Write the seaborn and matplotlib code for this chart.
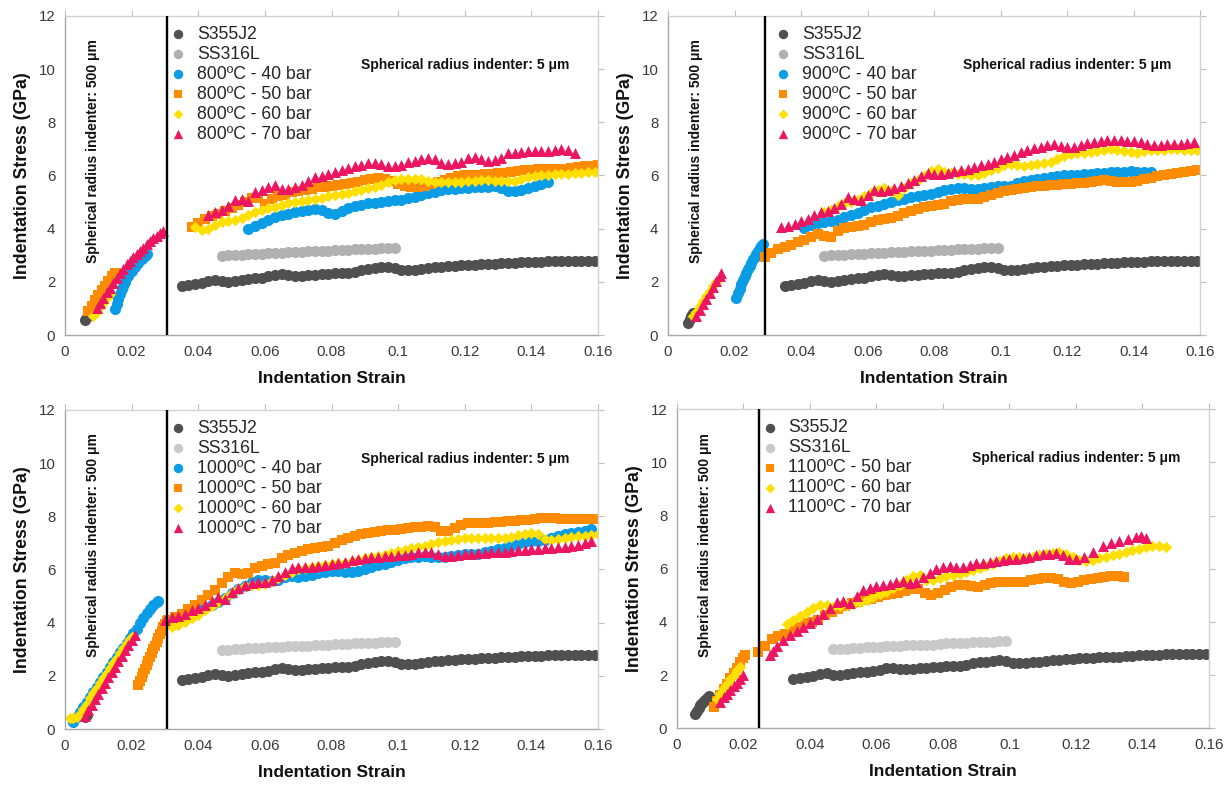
import matplotlib
matplotlib.use("Agg")
import matplotlib.pyplot as plt
import pandas as pd
import seaborn as sns

# ---------------------------------------------------------------- data ----
x_ticks = [0, 0.02, 0.04, 0.06, 0.08, 0.10, 0.12, 0.14, 0.16]
x_tick_labels = ["0", "0.02", "0.04", "0.06", "0.08", "0.1", "0.12", "0.14", "0.16"]
y_ticks = [0, 2, 4, 6, 8, 10, 12]

# Reference steels (same curves in every panel)
s355_strain = [0.035, 0.037, 0.039, 0.041, 0.043, 0.045, 0.047, 0.049, 0.051, 0.053,
               0.055, 0.057, 0.059, 0.061, 0.063, 0.065, 0.067, 0.069, 0.071, 0.073,
               0.075, 0.077, 0.079, 0.081, 0.083, 0.085, 0.087, 0.089, 0.091, 0.093,
               0.095, 0.097, 0.099, 0.101, 0.103, 0.105, 0.107, 0.109, 0.111, 0.113,
               0.115, 0.117, 0.119, 0.121, 0.123, 0.125, 0.127, 0.129, 0.131, 0.133,
               0.135, 0.137, 0.139, 0.141, 0.143, 0.145, 0.147, 0.149, 0.151, 0.153,
               0.155, 0.157, 0.159]
s355_stress = [1.84, 1.88, 1.92, 1.97, 2.03, 2.08, 2.02, 1.99, 2.03, 2.07,
               2.10, 2.13, 2.16, 2.20, 2.26, 2.28, 2.24, 2.22, 2.23, 2.25,
               2.27, 2.29, 2.31, 2.33, 2.34, 2.35, 2.37, 2.44, 2.48, 2.51,
               2.55, 2.56, 2.53, 2.46, 2.44, 2.46, 2.48, 2.51, 2.54, 2.56,
               2.58, 2.61, 2.62, 2.63, 2.65, 2.66, 2.67, 2.68, 2.69, 2.70,
               2.71, 2.73, 2.74, 2.75, 2.76, 2.77, 2.78, 2.79, 2.79, 2.80,
               2.80, 2.80, 2.79]

ss316_strain = [0.047, 0.049, 0.051, 0.053, 0.055, 0.057, 0.059, 0.061, 0.063, 0.065,
                0.067, 0.069, 0.071, 0.073, 0.075, 0.077, 0.079, 0.081, 0.083, 0.085,
                0.087, 0.089, 0.091, 0.093, 0.095, 0.097, 0.099]
ss316_stress = [2.97, 2.99, 3.00, 3.02, 3.03, 3.05, 3.06, 3.07, 3.09, 3.10,
                3.11, 3.12, 3.13, 3.14, 3.15, 3.15, 3.16, 3.19, 3.20, 3.21,
                3.22, 3.23, 3.24, 3.25, 3.26, 3.27, 3.28]

# S355J2 readings with the 500 um indenter, per panel
s355_low_800_strain = [0.006, 0.0065, 0.007, 0.0075]
s355_low_800_stress = [0.55, 0.68, 0.82, 0.95]
s355_low_900_strain = [0.006, 0.0065, 0.007, 0.0075]
s355_low_900_stress = [0.46, 0.60, 0.72, 0.84]
s355_low_1000_strain = [0.006, 0.0065]
s355_low_1000_stress = [0.45, 0.52]
s355_low_1100_strain = [0.0055, 0.006, 0.0065, 0.007, 0.0075, 0.008, 0.0085, 0.009, 0.0095]
s355_low_1100_stress = [0.55, 0.65, 0.78, 0.88, 0.96, 1.02, 1.08, 1.15, 1.20]

# ---- 800 ºC
t800_b40_strain = [0.0150, 0.0155, 0.0160, 0.0165, 0.0170, 0.0175, 0.0180, 0.0190, 0.0200, 0.0210,
                   0.0220, 0.0230, 0.0240, 0.0245,
                   0.055, 0.057, 0.059, 0.061, 0.063, 0.065, 0.067, 0.069, 0.071, 0.073,
                   0.075, 0.077, 0.079, 0.081, 0.083, 0.085, 0.087, 0.089, 0.091, 0.093,
                   0.095, 0.097, 0.099, 0.101, 0.103, 0.105, 0.107, 0.109, 0.111, 0.113,
                   0.115, 0.117, 0.119, 0.121, 0.123, 0.125, 0.127, 0.129, 0.131, 0.133,
                   0.135, 0.137, 0.139, 0.141, 0.143, 0.145]
t800_b40_stress = [0.97, 1.15, 1.35, 1.55, 1.72, 1.86, 1.98, 2.20, 2.40, 2.56,
                   2.70, 2.84, 2.96, 3.04,
                   4.00, 4.10, 4.20, 4.32, 4.42, 4.50, 4.56, 4.62, 4.66, 4.70,
                   4.73, 4.70, 4.58, 4.56, 4.66, 4.76, 4.84, 4.90, 4.95, 4.98,
                   5.01, 5.04, 5.06, 5.08, 5.14, 5.20, 5.26, 5.33, 5.39, 5.44,
                   5.48, 5.50, 5.52, 5.53, 5.55, 5.56, 5.58, 5.60, 5.52, 5.41,
                   5.42, 5.45, 5.52, 5.62, 5.68, 5.75]

t800_b50_strain = [0.007, 0.008, 0.009, 0.010, 0.011, 0.012, 0.013, 0.014, 0.015,
                   0.038, 0.040, 0.042, 0.044, 0.046, 0.048, 0.050, 0.052, 0.054, 0.056,
                   0.058, 0.060, 0.062, 0.064, 0.066, 0.068, 0.070, 0.072, 0.074, 0.076,
                   0.078, 0.080, 0.082, 0.084, 0.086, 0.088, 0.090, 0.092, 0.094, 0.096,
                   0.098, 0.100, 0.102, 0.104, 0.106, 0.108, 0.110, 0.112, 0.114, 0.116,
                   0.118, 0.120, 0.122, 0.124, 0.126, 0.128, 0.130, 0.132, 0.134, 0.136,
                   0.138, 0.140, 0.142, 0.144, 0.146, 0.148, 0.150, 0.152, 0.154, 0.156,
                   0.158, 0.160]
t800_b50_stress = [0.90, 1.10, 1.30, 1.50, 1.68, 1.86, 2.03, 2.20, 2.35,
                   4.06, 4.22, 4.38, 4.46, 4.56, 4.66, 4.77, 4.88, 5.00, 5.14,
                   5.16, 4.94, 5.10, 5.22, 5.28, 5.36, 5.40, 5.45, 5.50, 5.55,
                   5.58, 5.61, 5.64, 5.68, 5.72, 5.77, 5.82, 5.87, 5.89, 5.86,
                   5.80, 5.68, 5.60, 5.57, 5.58, 5.62, 5.68, 5.76, 5.84, 5.92,
                   5.98, 6.01, 6.02, 6.03, 6.04, 6.06, 6.08, 6.10, 6.14, 6.18,
                   6.21, 6.22, 6.23, 6.24, 6.25, 6.25, 6.26, 6.28, 6.31, 6.34,
                   6.37, 6.38]

t800_b60_strain = [0.0085, 0.0095, 0.0105, 0.0115, 0.0125, 0.0135,
                   0.039, 0.041, 0.043, 0.045, 0.047, 0.049, 0.051, 0.053, 0.055, 0.057,
                   0.059, 0.061, 0.063, 0.065, 0.067, 0.069, 0.071, 0.073, 0.075, 0.077,
                   0.079, 0.081, 0.083, 0.085, 0.087, 0.089, 0.091, 0.093, 0.095, 0.097,
                   0.099, 0.101, 0.103, 0.105, 0.107, 0.109, 0.111, 0.113, 0.115, 0.117,
                   0.119, 0.121, 0.123, 0.125, 0.127, 0.129, 0.131, 0.133, 0.135, 0.137,
                   0.139, 0.141, 0.143, 0.145, 0.147, 0.149, 0.151, 0.153, 0.155, 0.157,
                   0.159]
t800_b60_stress = [0.72, 0.88, 1.05, 1.22, 1.38, 1.54,
                   4.06, 3.96, 3.98, 4.12, 4.24, 4.28, 4.33, 4.40, 4.50, 4.63,
                   4.70, 4.76, 4.82, 4.88, 4.95, 5.00, 5.04, 5.09, 5.13, 5.17,
                   5.22, 5.26, 5.30, 5.35, 5.40, 5.46, 5.52, 5.58, 5.64, 5.74,
                   5.82, 5.85, 5.87, 5.88, 5.85, 5.80, 5.77, 5.75, 5.75, 5.76,
                   5.77, 5.78, 5.80, 5.81, 5.81, 5.80, 5.79, 5.78, 5.80, 5.88,
                   5.95, 5.98, 6.01, 6.03, 6.05, 6.06, 6.07, 6.08, 6.10, 6.12,
                   6.13]

t800_b70_strain = [0.0095, 0.0105, 0.0115, 0.0125, 0.0135, 0.0145, 0.0155, 0.0165, 0.0175, 0.0185,
                   0.0195, 0.0205, 0.0215, 0.0225, 0.0235, 0.0245, 0.0255, 0.0265, 0.0275, 0.0285,
                   0.0295,
                   0.043, 0.045, 0.047, 0.049, 0.051, 0.053, 0.055, 0.057, 0.059, 0.061,
                   0.063, 0.065, 0.067, 0.069, 0.071, 0.073, 0.075, 0.077, 0.079, 0.081,
                   0.083, 0.085, 0.087, 0.089, 0.091, 0.093, 0.095, 0.097, 0.099, 0.101,
                   0.103, 0.105, 0.107, 0.109, 0.111, 0.113, 0.115, 0.117, 0.119, 0.121,
                   0.123, 0.125, 0.127, 0.129, 0.131, 0.133, 0.135, 0.137, 0.139, 0.141,
                   0.143, 0.145, 0.147, 0.149, 0.151, 0.153]
t800_b70_stress = [1.03, 1.22, 1.41, 1.60, 1.78, 1.97, 2.15, 2.33, 2.50, 2.67,
                   2.80, 2.93, 3.05, 3.17, 3.29, 3.42, 3.53, 3.64, 3.72, 3.82,
                   3.92,
                   4.52, 4.62, 4.70, 4.85, 5.08, 5.10, 5.02, 5.38, 5.46, 5.55,
                   5.64, 5.50, 5.48, 5.58, 5.65, 5.80, 5.94, 5.98, 6.06, 6.13,
                   6.20, 6.27, 6.34, 6.39, 6.45, 6.48, 6.42, 6.36, 6.34, 6.38,
                   6.50, 6.56, 6.63, 6.66, 6.60, 6.48, 6.44, 6.47, 6.52, 6.64,
                   6.71, 6.62, 6.56, 6.58, 6.64, 6.84, 6.86, 6.88, 6.90, 6.90,
                   6.91, 6.93, 6.95, 7.00, 6.96, 6.85]

# ---- 900 ºC
t900_b40_strain = [0.0205, 0.0210, 0.0215, 0.0220, 0.0225, 0.0230, 0.0235, 0.0240, 0.0245, 0.0250,
                   0.0255, 0.0260, 0.0265, 0.0270, 0.0275, 0.0280, 0.0285,
                   0.041, 0.043, 0.045, 0.047, 0.049, 0.051, 0.053, 0.055, 0.057, 0.059,
                   0.061, 0.063, 0.065, 0.067, 0.069, 0.071, 0.073, 0.075, 0.077, 0.079,
                   0.081, 0.083, 0.085, 0.087, 0.089, 0.091, 0.093, 0.095, 0.097, 0.099,
                   0.101, 0.103, 0.105, 0.107, 0.109, 0.111, 0.113, 0.115, 0.117, 0.119,
                   0.121, 0.123, 0.125, 0.127, 0.129, 0.131, 0.133, 0.135, 0.137, 0.139,
                   0.141, 0.143, 0.145]
t900_b40_stress = [1.41, 1.58, 1.74, 1.90, 2.05, 2.20, 2.34, 2.47, 2.60, 2.72,
                   2.84, 2.95, 3.06, 3.16, 3.26, 3.35, 3.44,
                   4.04, 4.14, 4.20, 4.26, 4.30, 4.34, 4.44, 4.52, 4.60, 4.70,
                   4.80, 4.86, 4.92, 5.00, 5.06, 5.10, 5.18, 5.24, 5.28, 5.32,
                   5.38, 5.44, 5.50, 5.53, 5.52, 5.50, 5.50, 5.54, 5.58, 5.61,
                   5.60, 5.62, 5.70, 5.78, 5.84, 5.88, 5.92, 5.95, 5.97, 6.00,
                   6.02, 6.03, 6.05, 6.06, 6.08, 6.10, 6.12, 6.13, 6.14, 6.15,
                   6.14, 6.14, 6.14]

t900_b50_strain = [0.029, 0.031, 0.033, 0.035, 0.037, 0.039, 0.041, 0.043, 0.045, 0.047,
                   0.049, 0.051, 0.053, 0.055, 0.057, 0.059, 0.061, 0.063, 0.065, 0.067,
                   0.069, 0.071, 0.073, 0.075, 0.077, 0.079, 0.081, 0.083, 0.085, 0.087,
                   0.089, 0.091, 0.093, 0.095, 0.097, 0.099, 0.101, 0.103, 0.105, 0.107,
                   0.109, 0.111, 0.113, 0.115, 0.117, 0.119, 0.121, 0.123, 0.125, 0.127,
                   0.129, 0.131, 0.133, 0.135, 0.137, 0.139, 0.141, 0.143, 0.145, 0.147,
                   0.149, 0.151, 0.153, 0.155, 0.157, 0.159]
t900_b50_stress = [2.95, 3.10, 3.24, 3.32, 3.40, 3.50, 3.58, 3.68, 3.80, 3.74,
                   3.70, 3.90, 4.02, 4.06, 4.10, 4.14, 4.24, 4.34, 4.38, 4.40,
                   4.48, 4.58, 4.66, 4.74, 4.80, 4.84, 4.88, 4.94, 5.02, 5.08,
                   5.10, 5.10, 5.12, 5.18, 5.26, 5.34, 5.40, 5.44, 5.48, 5.52,
                   5.56, 5.60, 5.62, 5.63, 5.64, 5.66, 5.68, 5.70, 5.73, 5.76,
                   5.79, 5.81, 5.80, 5.77, 5.75, 5.76, 5.80, 5.86, 5.92, 5.98,
                   6.02, 6.06, 6.10, 6.14, 6.17, 6.19]

t900_b60_strain = [0.0075, 0.0085, 0.0095, 0.0105, 0.0115, 0.0125, 0.0135, 0.0145,
                   0.047, 0.049, 0.051, 0.053, 0.055, 0.057, 0.059, 0.061, 0.063, 0.065,
                   0.067, 0.069, 0.071, 0.073, 0.075, 0.077, 0.079, 0.081, 0.083, 0.085,
                   0.087, 0.089, 0.091, 0.093, 0.095, 0.097, 0.099, 0.101, 0.103, 0.105,
                   0.107, 0.109, 0.111, 0.113, 0.115, 0.117, 0.119, 0.121, 0.123, 0.125,
                   0.127, 0.129, 0.131, 0.133, 0.135, 0.137, 0.139, 0.141, 0.143, 0.145,
                   0.147, 0.149, 0.151, 0.153, 0.155, 0.157, 0.159]
t900_b60_stress = [0.70, 0.88, 1.08, 1.27, 1.46, 1.65, 1.84, 2.00,
                   4.62, 4.70, 4.84, 4.96, 5.00, 5.08, 5.22, 5.34, 5.46, 5.54,
                   5.40, 5.26, 5.52, 5.70, 5.82, 5.98, 6.18, 6.24, 6.14, 6.10,
                   6.06, 6.04, 6.00, 6.00, 6.10, 6.22, 6.28, 6.38, 6.44, 6.40,
                   6.36, 6.38, 6.42, 6.46, 6.50, 6.60, 6.72, 6.80, 6.84, 6.86,
                   6.88, 6.92, 6.95, 6.98, 6.96, 6.92, 6.88, 6.86, 6.90, 6.94,
                   6.96, 6.97, 6.98, 6.98, 6.97, 6.96, 6.95]

t900_b70_strain = [0.0085, 0.0095, 0.0105, 0.0115, 0.0125, 0.0135, 0.0145, 0.0155, 0.0160,
                   0.034, 0.036, 0.038, 0.040, 0.042, 0.044, 0.046, 0.048, 0.050, 0.052,
                   0.054, 0.056, 0.058, 0.060, 0.062, 0.064, 0.066, 0.068, 0.070, 0.072,
                   0.074, 0.076, 0.078, 0.080, 0.082, 0.084, 0.086, 0.088, 0.090, 0.092,
                   0.094, 0.096, 0.098, 0.100, 0.102, 0.104, 0.106, 0.108, 0.110, 0.112,
                   0.114, 0.116, 0.118, 0.120, 0.122, 0.124, 0.126, 0.128, 0.130, 0.132,
                   0.134, 0.136, 0.138, 0.140, 0.142, 0.144, 0.146, 0.148, 0.150, 0.152,
                   0.154, 0.156, 0.158]
t900_b70_stress = [0.72, 0.93, 1.15, 1.37, 1.59, 1.80, 2.02, 2.23, 2.35,
                   4.06, 4.10, 4.16, 4.28, 4.36, 4.52, 4.62, 4.66, 4.78, 4.92,
                   5.20, 5.10, 5.06, 5.28, 5.44, 5.40, 5.46, 5.54, 5.62, 5.72,
                   5.84, 5.96, 6.08, 6.06, 6.04, 6.08, 6.16, 6.22, 6.26, 6.32,
                   6.38, 6.44, 6.52, 6.62, 6.70, 6.78, 6.88, 6.96, 7.02, 7.08,
                   7.14, 7.18, 7.12, 7.06, 7.08, 7.16, 7.22, 7.26, 7.30, 7.32,
                   7.33, 7.32, 7.31, 7.30, 7.25, 7.18, 7.15, 7.16, 7.18, 7.19,
                   7.20, 7.22, 7.24]

# ---- 1000 ºC
t1000_b40_strain = [0.0025, 0.0035, 0.0045, 0.0055, 0.0065, 0.0075, 0.0085, 0.0095, 0.0105, 0.0115,
                    0.0125, 0.0135, 0.0145, 0.0155, 0.0165, 0.0175, 0.0185, 0.0195, 0.0205, 0.0215,
                    0.0225, 0.0235, 0.0245, 0.0255, 0.0265, 0.0275, 0.0280,
                    0.038, 0.040, 0.042, 0.044, 0.046, 0.048, 0.050, 0.052, 0.054, 0.056,
                    0.058, 0.060, 0.062, 0.064, 0.066, 0.068, 0.070, 0.072, 0.074, 0.076,
                    0.078, 0.080, 0.082, 0.084, 0.086, 0.088, 0.090, 0.092, 0.094, 0.096,
                    0.098, 0.100, 0.102, 0.104, 0.106, 0.108, 0.110, 0.112, 0.114, 0.116,
                    0.118, 0.120, 0.122, 0.124, 0.126, 0.128, 0.130, 0.132, 0.134, 0.136,
                    0.138, 0.140, 0.142, 0.144, 0.146, 0.148, 0.150, 0.152, 0.154, 0.156,
                    0.158]
t1000_b40_stress = [0.28, 0.45, 0.64, 0.83, 1.02, 1.21, 1.40, 1.59, 1.78, 1.97,
                    2.15, 2.34, 2.52, 2.70, 2.88, 3.06, 3.24, 3.42, 3.60, 3.78,
                    3.98, 4.18, 4.36, 4.52, 4.65, 4.76, 4.80,
                    4.50, 4.56, 4.60, 4.66, 4.76, 4.92, 5.10, 5.26, 5.38, 5.52,
                    5.62, 5.62, 5.58, 5.62, 5.70, 5.76, 5.72, 5.74, 5.80, 5.86,
                    5.92, 5.96, 5.94, 5.90, 5.90, 5.94, 6.00, 6.08, 6.16, 6.22,
                    6.28, 6.36, 6.42, 6.46, 6.48, 6.50, 6.48, 6.46, 6.48, 6.52,
                    6.56, 6.58, 6.58, 6.60, 6.64, 6.70, 6.76, 6.82, 6.90, 6.96,
                    7.04, 7.08, 7.06, 7.10, 7.18, 7.26, 7.32, 7.36, 7.40, 7.46,
                    7.52]

t1000_b50_strain = [0.0220, 0.0225, 0.0230, 0.0235, 0.0240, 0.0245, 0.0250, 0.0255, 0.0260, 0.0265,
                    0.0270, 0.0275, 0.0280, 0.0285, 0.0290, 0.0295, 0.0300, 0.0305,
                    0.031, 0.033, 0.035, 0.037, 0.039, 0.041, 0.043, 0.045, 0.047, 0.049,
                    0.051, 0.053, 0.055, 0.057, 0.059, 0.061, 0.063, 0.065, 0.067, 0.069,
                    0.071, 0.073, 0.075, 0.077, 0.079, 0.081, 0.083, 0.085, 0.087, 0.089,
                    0.091, 0.093, 0.095, 0.097, 0.099, 0.101, 0.103, 0.105, 0.107, 0.109,
                    0.111, 0.113, 0.115, 0.117, 0.119, 0.121, 0.123, 0.125, 0.127, 0.129,
                    0.131, 0.133, 0.135, 0.137, 0.139, 0.141, 0.143, 0.145, 0.147, 0.149,
                    0.151, 0.153, 0.155, 0.157, 0.159]
t1000_b50_stress = [1.66, 1.80, 1.95, 2.10, 2.25, 2.40, 2.55, 2.70, 2.85, 3.00,
                    3.14, 3.28, 3.42, 3.56, 3.70, 3.83, 3.95, 4.05,
                    4.10, 4.22, 4.34, 4.50, 4.68, 4.84, 5.04, 5.22, 5.48, 5.70,
                    5.86, 5.82, 5.86, 6.04, 6.14, 6.20, 6.26, 6.42, 6.54, 6.62,
                    6.70, 6.78, 6.82, 6.85, 6.90, 7.00, 7.10, 7.18, 7.26, 7.32,
                    7.36, 7.40, 7.44, 7.47, 7.49, 7.52, 7.55, 7.58, 7.61, 7.62,
                    7.60, 7.46, 7.44, 7.56, 7.68, 7.74, 7.75, 7.76, 7.76, 7.78,
                    7.80, 7.82, 7.84, 7.85, 7.86, 7.90, 7.94, 7.94, 7.92, 7.90,
                    7.89, 7.88, 7.88, 7.89, 7.89]

t1000_b60_strain = [0.0015, 0.0025, 0.0035, 0.0045, 0.0055, 0.0065, 0.0075, 0.0085, 0.0095, 0.0105,
                    0.0115, 0.0125, 0.0135, 0.0145, 0.0155, 0.0165, 0.0175, 0.0185, 0.0195, 0.0200,
                    0.032, 0.034, 0.036, 0.038, 0.040, 0.042, 0.044, 0.046, 0.048, 0.050,
                    0.052, 0.054, 0.056, 0.058, 0.060, 0.062, 0.064, 0.066, 0.068, 0.070,
                    0.072, 0.074, 0.076, 0.078, 0.080, 0.082, 0.084, 0.086, 0.088, 0.090,
                    0.092, 0.094, 0.096, 0.098, 0.100, 0.102, 0.104, 0.106, 0.108, 0.110,
                    0.112, 0.114, 0.116, 0.118, 0.120, 0.122, 0.124, 0.126, 0.128, 0.130,
                    0.132, 0.134, 0.136, 0.138, 0.140, 0.142, 0.144, 0.146, 0.148, 0.150,
                    0.152, 0.154, 0.156, 0.158, 0.160]
t1000_b60_stress = [0.42, 0.42, 0.44, 0.58, 0.77, 0.96, 1.15, 1.34, 1.53, 1.72,
                    1.91, 2.10, 2.29, 2.48, 2.67, 2.86, 3.05, 3.24, 3.40, 3.47,
                    3.84, 3.90, 4.04, 4.18, 4.30, 4.46, 4.62, 4.78, 4.94, 5.10,
                    5.26, 5.36, 5.40, 5.42, 5.46, 5.56, 5.68, 5.80, 5.92, 6.00,
                    6.06, 6.10, 6.14, 6.18, 6.22, 6.24, 6.26, 6.30, 6.36, 6.42,
                    6.46, 6.50, 6.56, 6.62, 6.68, 6.74, 6.80, 6.85, 6.90, 6.96,
                    7.02, 7.06, 7.10, 7.14, 7.17, 7.18, 7.18, 7.17, 7.17, 7.18,
                    7.20, 7.23, 7.28, 7.34, 7.38, 7.34, 7.16, 7.12, 7.15, 7.18,
                    7.21, 7.24, 7.27, 7.30, 7.33]

t1000_b70_strain = [0.006, 0.007, 0.008, 0.009, 0.010, 0.011, 0.012, 0.013, 0.014, 0.015,
                    0.016, 0.017, 0.018, 0.019, 0.020, 0.021,
                    0.030, 0.032, 0.034, 0.036, 0.038, 0.040, 0.042, 0.044, 0.046, 0.048,
                    0.050, 0.052, 0.054, 0.056, 0.058, 0.060, 0.062, 0.064, 0.066, 0.068,
                    0.070, 0.072, 0.074, 0.076, 0.078, 0.080, 0.082, 0.084, 0.086, 0.088,
                    0.090, 0.092, 0.094, 0.096, 0.098, 0.100, 0.102, 0.104, 0.106, 0.108,
                    0.110, 0.112, 0.114, 0.116, 0.118, 0.120, 0.122, 0.124, 0.126, 0.128,
                    0.130, 0.132, 0.134, 0.136, 0.138, 0.140, 0.142, 0.144, 0.146, 0.148,
                    0.150, 0.152, 0.154, 0.156, 0.158]
t1000_b70_stress = [0.50, 0.70, 0.91, 1.12, 1.32, 1.53, 1.73, 1.94, 2.14, 2.35,
                    2.55, 2.76, 2.96, 3.16, 3.36, 3.54,
                    4.10, 4.20, 4.26, 4.34, 4.46, 4.56, 4.66, 4.80, 4.96, 4.90,
                    5.14, 5.30, 5.40, 5.48, 5.52, 5.54, 5.62, 5.74, 5.90, 6.04,
                    6.10, 6.08, 6.08, 6.12, 6.18, 6.20, 6.24, 6.28, 6.34, 6.40,
                    6.44, 6.46, 6.48, 6.50, 6.52, 6.54, 6.56, 6.60, 6.64, 6.66,
                    6.66, 6.60, 6.52, 6.52, 6.56, 6.58, 6.60, 6.62, 6.62, 6.64,
                    6.65, 6.66, 6.68, 6.72, 6.74, 6.76, 6.78, 6.80, 6.82, 6.84,
                    6.86, 6.88, 6.92, 6.98, 7.06]

# ---- 1100 ºC
t1100_b50_strain = [0.011, 0.012, 0.013, 0.014, 0.015, 0.016, 0.017, 0.018, 0.019, 0.020,
                    0.0205,
                    0.0245, 0.0265, 0.0285, 0.0305, 0.0325, 0.0345, 0.0365, 0.0385, 0.0405, 0.0425,
                    0.0445, 0.0465, 0.0485, 0.0505, 0.0525, 0.0545, 0.0565, 0.0585, 0.0605, 0.0625,
                    0.0645, 0.0665, 0.0685, 0.0705, 0.0725, 0.0745, 0.0765, 0.0785, 0.0805, 0.0825,
                    0.0845, 0.0865, 0.0885, 0.0905, 0.0925, 0.0945, 0.0965, 0.0985, 0.1005, 0.1025,
                    0.1045, 0.1065, 0.1085, 0.1105, 0.1125, 0.1145, 0.1165, 0.1185, 0.1205, 0.1225,
                    0.1245, 0.1265, 0.1285, 0.1305, 0.1325, 0.1345]
t1100_b50_stress = [0.80, 1.02, 1.24, 1.46, 1.68, 1.88, 2.08, 2.28, 2.48, 2.66,
                    2.75,
                    2.86, 3.10, 3.34, 3.46, 3.56, 3.66, 3.80, 3.96, 4.00, 4.06,
                    4.26, 4.38, 4.48, 4.60, 4.70, 4.76, 4.82, 4.88, 4.94, 5.00,
                    5.06, 5.10, 5.18, 5.24, 5.22, 5.08, 5.03, 5.10, 5.20, 5.30,
                    5.38, 5.40, 5.34, 5.32, 5.40, 5.48, 5.52, 5.52, 5.50, 5.50,
                    5.52, 5.56, 5.60, 5.64, 5.65, 5.62, 5.52, 5.48, 5.52, 5.58,
                    5.62, 5.66, 5.70, 5.72, 5.72, 5.70]

t1100_b60_strain = [0.012, 0.013, 0.014, 0.015, 0.016, 0.017, 0.018, 0.019,
                    0.033, 0.035, 0.037, 0.039, 0.041, 0.043, 0.045, 0.047, 0.049, 0.051,
                    0.053, 0.055, 0.057, 0.059, 0.061, 0.063, 0.065, 0.067, 0.069, 0.071,
                    0.073, 0.075, 0.077, 0.079, 0.081, 0.083, 0.085, 0.087, 0.089, 0.091,
                    0.093, 0.095, 0.097, 0.099, 0.101, 0.103, 0.105, 0.107, 0.109, 0.111,
                    0.113, 0.115, 0.117, 0.119, 0.121, 0.123, 0.125, 0.127, 0.129, 0.131,
                    0.133, 0.135, 0.137, 0.139, 0.141, 0.143, 0.145, 0.147]
t1100_b60_stress = [1.10, 1.30, 1.50, 1.68, 1.86, 2.02, 2.18, 2.32,
                    3.91, 4.06, 4.22, 4.36, 4.52, 4.64, 4.62, 4.58, 4.60, 4.64,
                    4.68, 4.74, 4.84, 4.94, 5.04, 5.14, 5.26, 5.40, 5.56, 5.72,
                    5.76, 5.58, 5.56, 5.66, 5.72, 5.76, 5.82, 5.88, 5.94, 6.02,
                    6.10, 6.18, 6.28, 6.40, 6.45, 6.43, 6.41, 6.44, 6.50, 6.56,
                    6.60, 6.62, 6.56, 6.44, 6.34, 6.30, 6.34, 6.40, 6.44, 6.50,
                    6.56, 6.62, 6.70, 6.76, 6.82, 6.86, 6.86, 6.83]

t1100_b70_strain = [0.013, 0.014, 0.015, 0.016, 0.017, 0.018, 0.019, 0.020,
                    0.028, 0.029, 0.030, 0.032, 0.034, 0.036, 0.038, 0.040, 0.042, 0.044,
                    0.046, 0.048, 0.050, 0.052, 0.054, 0.056, 0.058, 0.060, 0.062, 0.064,
                    0.066, 0.068, 0.070, 0.072, 0.074, 0.076, 0.078, 0.080, 0.082, 0.084,
                    0.086, 0.088, 0.090, 0.092, 0.094, 0.096, 0.098, 0.100, 0.102, 0.104,
                    0.106, 0.108, 0.110, 0.112, 0.114, 0.116, 0.118, 0.120, 0.1225, 0.125,
                    0.128, 0.1305, 0.133, 0.1355, 0.138, 0.1395, 0.141]
t1100_b70_stress = [1.00, 1.16, 1.30, 1.44, 1.58, 1.72, 1.86, 2.00,
                    2.74, 2.92, 3.08, 3.32, 3.50, 3.66, 3.80, 3.96, 4.10, 4.30,
                    4.52, 4.76, 4.80, 4.72, 4.96, 5.20, 5.28, 5.34, 5.40, 5.44,
                    5.50, 5.54, 5.48, 5.50, 5.70, 5.84, 5.98, 6.08, 6.10, 6.08,
                    6.08, 6.14, 6.22, 6.20, 6.24, 6.30, 6.34, 6.36, 6.38, 6.42,
                    6.46, 6.50, 6.54, 6.56, 6.58, 6.52, 6.36, 6.38, 6.44, 6.62,
                    6.84, 6.98, 7.06, 7.10, 7.20, 7.22, 7.16]

# Strain where the 500 um indenter data hands over to the 5 um indenter
indenter_switch = [0.0305, 0.0291, 0.0305, 0.0246]
ss316_colors = ["#b1b1b1", "#b1b1b1", "#c9c9c9", "#c9c9c9"]

panels = [
    [("S355J2", s355_low_800_strain + s355_strain, s355_low_800_stress + s355_stress),
     ("SS316L", ss316_strain, ss316_stress),
     ("800ºC - 40 bar", t800_b40_strain, t800_b40_stress),
     ("800ºC - 50 bar", t800_b50_strain, t800_b50_stress),
     ("800ºC - 60 bar", t800_b60_strain, t800_b60_stress),
     ("800ºC - 70 bar", t800_b70_strain, t800_b70_stress)],
    [("S355J2", s355_low_900_strain + s355_strain, s355_low_900_stress + s355_stress),
     ("SS316L", ss316_strain, ss316_stress),
     ("900ºC - 40 bar", t900_b40_strain, t900_b40_stress),
     ("900ºC - 50 bar", t900_b50_strain, t900_b50_stress),
     ("900ºC - 60 bar", t900_b60_strain, t900_b60_stress),
     ("900ºC - 70 bar", t900_b70_strain, t900_b70_stress)],
    [("S355J2", s355_low_1000_strain + s355_strain, s355_low_1000_stress + s355_stress),
     ("SS316L", ss316_strain, ss316_stress),
     ("1000ºC - 40 bar", t1000_b40_strain, t1000_b40_stress),
     ("1000ºC - 50 bar", t1000_b50_strain, t1000_b50_stress),
     ("1000ºC - 60 bar", t1000_b60_strain, t1000_b60_stress),
     ("1000ºC - 70 bar", t1000_b70_strain, t1000_b70_stress)],
    [("S355J2", s355_low_1100_strain + s355_strain, s355_low_1100_stress + s355_stress),
     ("SS316L", ss316_strain, ss316_stress),
     ("1100ºC - 50 bar", t1100_b50_strain, t1100_b50_stress),
     ("1100ºC - 60 bar", t1100_b60_strain, t1100_b60_stress),
     ("1100ºC - 70 bar", t1100_b70_strain, t1100_b70_stress)],
]

# ------------------------------------------------------------- styling ----
sns.set_theme(style="white")
plt.rcParams["font.family"] = ["Liberation Sans", "DejaVu Sans"]

series_style = {
    "S355J2": ("#505050", "o", 64),
    "40 bar": ("#0a9de6", "o", 64),
    "50 bar": ("#ff8c00", "s", 56),
    "60 bar": ("#ffdf00", "D", 34),
    "70 bar": ("#ec1561", "^", 62),
}

axes_rects = [(0.0530, 0.5754, 0.4348, 0.4045),
              (0.5449, 0.5754, 0.4343, 0.4045),
              (0.0530, 0.0760, 0.4348, 0.4045),
              (0.5522, 0.0769, 0.4339, 0.4045)]
legend_marker_x = [0.0339, 0.0345, 0.0339, 0.0277]

fig = plt.figure(figsize=(12.26, 7.89), dpi=100)

for idx, series in enumerate(panels):
    ax = fig.add_axes(axes_rects[idx])
    for label, strain, stress in series:
        if len(strain) != len(stress):
            raise ValueError(f"{label}: {len(strain)} strains vs {len(stress)} stresses")
        if label == "SS316L":
            color, marker, size = ss316_colors[idx], "o", 64
        else:
            key = "S355J2" if label == "S355J2" else label.split(" - ")[1]
            color, marker, size = series_style[key]
        df = pd.DataFrame({"strain": strain, "stress": stress})
        sns.scatterplot(data=df, x="strain", y="stress", ax=ax, color=color,
                        marker=marker, s=size, linewidth=0, label=label,
                        legend=False, zorder=2)

    ax.axvline(indenter_switch[idx], color="black", lw=1.7, zorder=4)

    ax.set_xlim(0, 0.16)
    ax.set_ylim(0, 12)
    ax.set_xticks(x_ticks)
    ax.set_xticklabels(x_tick_labels)
    ax.set_yticks(y_ticks)
    ax.set_yticklabels([str(v) for v in y_ticks])

    for side in ("left", "bottom"):
        ax.spines[side].set_color("#a8a8a8")
        ax.spines[side].set_linewidth(1.0)
    for side in ("top", "right"):
        ax.spines[side].set_color("#d2d2d2")
        ax.spines[side].set_linewidth(1.0)
    ax.tick_params(axis="both", which="both", direction="out", length=4,
                   width=0.8, color="#bdbdbd", labelsize=10.8,
                   labelcolor="#3a3a3a", top=True, right=True,
                   labeltop=False, labelright=False, pad=3)

    ax.set_xlabel("Indentation Strain", fontsize=12.5, fontweight="bold",
                  color="#111111")
    ax.set_ylabel("Indentation Stress (GPa)", fontsize=12.7, fontweight="bold",
                  color="#111111")
    ax.xaxis.set_label_coords(0.5, -0.112)
    ax.yaxis.set_label_coords(-0.064, 0.5)

    ax.text(0.12, 10.17, "Spherical radius indenter: 5 μm", ha="center",
            va="center", fontsize=10, fontweight="bold", color="#111111")
    ax.text(0.0085, 6.9, "Spherical radius indenter: 500 μm", rotation=90,
            ha="center", va="center", fontsize=10, fontweight="bold",
            color="#111111")

    ax.legend(loc="upper left",
              bbox_to_anchor=(legend_marker_x[idx] - 0.0025, 11.62),
              bbox_transform=ax.transData, frameon=False, fontsize=12.7,
              handlelength=1.0, handletextpad=0.55, borderpad=0,
              borderaxespad=0, labelspacing=0.17, scatterpoints=1,
              markerscale=0.85)

fig.savefig("out.png", dpi=100)
